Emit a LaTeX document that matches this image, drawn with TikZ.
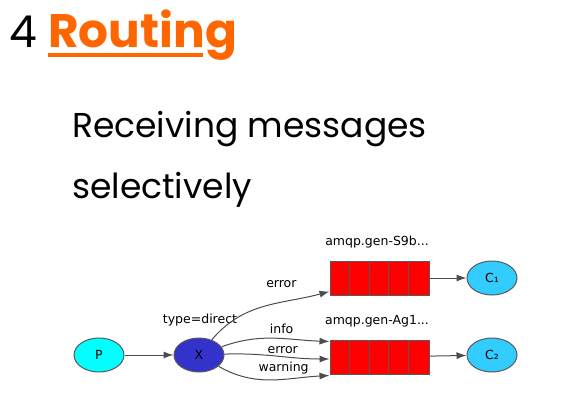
\documentclass[tikz,border=0pt]{standalone}
\usepackage{fontspec}
\setmainfont{Poppins}
\newfontfamily\graphfont{DejaVu Sans}
\usetikzlibrary{arrows.meta,shapes.geometric,calc}

\definecolor{routeorange}{HTML}{FF6600}
\definecolor{prodcyan}{HTML}{00FFFF}
\definecolor{exchblue}{HTML}{3333CC}
\definecolor{conscyan}{HTML}{33CCFF}
\definecolor{queuered}{HTML}{FF0000}

\tikzset{
    gfont/.style={font=\graphfont\fontsize{12.5}{14}\selectfont},
    actor/.style={ellipse, draw=black!65, line width=1pt, minimum width=50, minimum height=34, inner sep=0, gfont},
    queuebox/.style={rectangle, draw=black!65, line width=1pt, fill=queuered, minimum width=99, minimum height=34, inner sep=0},
    link/.style={->, draw=black!70, line width=1pt},
}

\begin{document}
\begin{tikzpicture}[x=1pt, y=-1pt, >={Latex[length=10pt,width=7pt]}]
    \useasboundingbox (0,0) rectangle (585,404);

    % 1. Title
    \node[anchor=base west, inner sep=0, font=\fontsize{44}{50}\selectfont] (num) at (9,48) {4};
    \node[anchor=base west, inner sep=0, text=routeorange, font=\bfseries\fontsize{47}{52}\selectfont] (title) at (48,48) {Routing};
    \draw[routeorange, line width=4pt] ($(title.base west)+(0,7)$) -- ($(title.base west)+(155,7)$);

    % 2. Subtitle
    \node[anchor=base west, inner sep=0, font=\fontsize{34.5}{40}\selectfont] (sub1) at (72,137) {Receiving messages};
    \node[anchor=base west, inner sep=0, font=\fontsize{34.5}{40}\selectfont] (sub2) at (72,198) {selectively};

    % 3. Producer and exchange
    \node[actor, fill=prodcyan] (P) at (99,355) {P};
    \node[actor, fill=exchblue] (X) at (199,355) {X};
    \node[gfont] (xtype) at (200,320) {type=direct};

    % 4. Queues
    \node[queuebox] (q1) at (379.5,278) {};
    \node[queuebox] (q2) at (379.5,357) {};
    \foreach \k in {1,2,3,4} {
        \draw[black!65, line width=1pt] ($(q1.north west)+(\k*19.8,0)$) -- ($(q1.south west)+(\k*19.8,0)$);
        \draw[black!65, line width=1pt] ($(q2.north west)+(\k*19.8,0)$) -- ($(q2.south west)+(\k*19.8,0)$);
    }
    \node[gfont] (q1name) at (377,242) {amqp.gen-S9b...};
    \node[gfont] (q2name) at (377,321) {amqp.gen-Ag1...};

    % 5. Consumers
    \node[actor, fill=conscyan] (C1) at (492,278) {C₁};
    \node[actor, fill=conscyan] (C2) at (492,355) {C₂};

    % 6. Bindings
    \coordinate (q1in) at ($(q1.south west)+(0,-4)$);
    \coordinate (q2a) at ($(q2.north west)+(0,2)$);
    \coordinate (q2b) at ($(q2.west)+(0,2)$);
    \coordinate (q2c) at ($(q2.south west)+(0,1)$);

    \draw[link] (P) -- (X);
    \draw[link] (X) to[out=50, in=195] node[gfont, above, pos=0.64, yshift=10] {error} (q1in);
    \draw[link] (X) to[out=20, in=178] node[gfont, above, pos=0.57, yshift=1] {info} (q2a);
    \draw[link] (X) to[out=2, in=180] node[gfont, above, pos=0.56, yshift=-1] {error} (q2b);
    \draw[link] (X) to[out=-30, in=183] node[gfont, above, pos=0.61, yshift=1] {warning} (q2c);
    \draw[link] (q1) -- (C1);
    \draw[link] (q2) -- (C2);
\end{tikzpicture}
\end{document}
